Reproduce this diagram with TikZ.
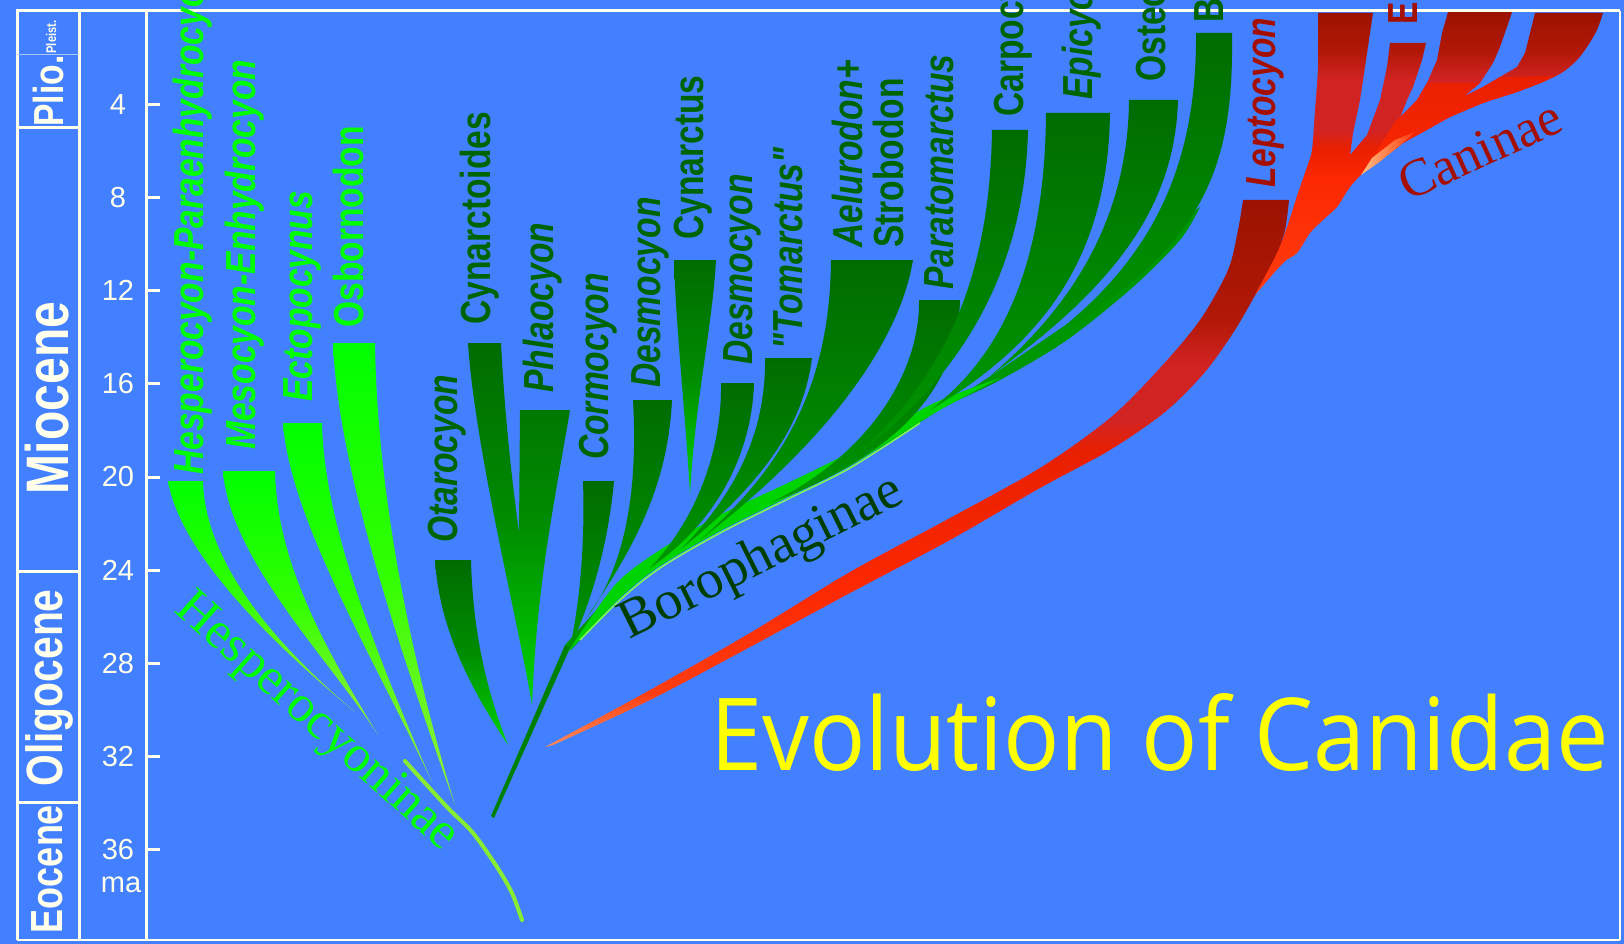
\documentclass[tikz,border=0pt]{standalone}
\usepackage{graphicx}
\usepackage{fontspec}
\setmainfont{Liberation Serif}
\newfontfamily\condsans[FakeStretch=0.8]{Liberation Sans}
\newfontfamily\plainsans{Liberation Sans}
\newfontfamily\titlefont{Open Sans}

% palette
\definecolor{bgblue}{RGB}{66,128,255}
\definecolor{framewhite}{RGB}{255,255,236}
\definecolor{hgreen}{RGB}{0,255,0}
\definecolor{hmid}{RGB}{50,255,0}
\definecolor{hyellow}{RGB}{150,238,60}
\definecolor{htrunkc}{RGB}{135,236,50}
\definecolor{bdark}{RGB}{0,108,0}
\definecolor{bmid}{RGB}{0,150,0}
\definecolor{bstem}{RGB}{0,128,0}
\definecolor{bmidtwo}{RGB}{0,140,0}
\definecolor{bbright}{RGB}{0,212,0}
\definecolor{blight}{RGB}{130,250,80}
\definecolor{blabel}{RGB}{0,100,0}
\definecolor{bfam}{RGB}{0,62,0}
\definecolor{rdark}{RGB}{155,18,0}
\definecolor{rdarktwo}{RGB}{178,24,6}
\definecolor{rcrim}{RGB}{210,35,35}
\definecolor{rred}{RGB}{232,32,0}
\definecolor{rbright}{RGB}{252,40,0}
\definecolor{rorange}{RGB}{255,60,15}
\definecolor{rtip}{RGB}{255,140,90}
\definecolor{rhigh}{RGB}{255,190,130}
\definecolor{rlabel}{RGB}{165,15,0}
\definecolor{titleyellow}{RGB}{255,255,0}

% red shadings, inner 25bp..75bp span the shape's height
\pgfdeclareverticalshading{leptoshade}{100bp}{color(0bp)=(rtip); color(25bp)=(rtip); color(30bp)=(rorange); color(40bp)=(rbright); color(52bp)=(rred); color(55bp)=(rcrim); color(60bp)=(rcrim); color(64bp)=(rdarktwo); color(75bp)=(rdark); color(100bp)=(rdark)}
\pgfdeclareverticalshading{crownshade}{100bp}{color(0bp)=(rorange); color(25bp)=(rorange); color(46bp)=(rbright); color(51bp)=(rred); color(54bp)=(rcrim); color(63bp)=(rcrim); color(68bp)=(rdarktwo); color(75bp)=(rdark); color(100bp)=(rdark)}

\tikzset{
  hwedge/.style={top color=hgreen, bottom color=hyellow, middle color=hmid},
  bwedge/.style={top color=bdark, bottom color=bmid},
  bspindle/.style={top color=bdark, bottom color=bbright, middle color=bmidtwo},
  framepen/.style={draw=framewhite, line width=3},
  genus/.style={rotate=90, anchor=base west, inner sep=0pt, font=\condsans\bfseries\fontsize{42}{42}\selectfont},
  genusit/.style={genus, font=\condsans\bfseries\itshape\fontsize{42}{42}\selectfont},
  hlab/.style={text=hgreen},
  blab/.style={text=blabel},
  rlab/.style={text=rlabel},
  epoch/.style={rotate=90, anchor=base, inner sep=0pt, text=framewhite},
  agelabel/.style={inner sep=0pt, text=framewhite, font=\plainsans\fontsize{29}{29}\selectfont},
}

\begin{document}
\begin{tikzpicture}[x=1pt,y=-1pt]
\useasboundingbox (0,0) rectangle (1624,944);
\fill[bgblue] (0,0) rectangle (1624,944);

% ---------- Hesperocyoninae ----------
\shade[hwedge] (168,481) -- (203,481) .. controls (205,560) and (270,640) .. (355,712) .. controls (262,635) and (180,550) .. (168,481) -- cycle;
\shade[hwedge] (223,471) -- (275,471) .. controls (277,560) and (320,640) .. (378,735) .. controls (330,660) and (230,560) .. (223,471) -- cycle;
\shade[hwedge] (283,423) -- (322,423) .. controls (324,520) and (370,640) .. (432,782) .. controls (375,660) and (290,520) .. (283,423) -- cycle;
\shade[hwedge] (333,343) -- (375,343) .. controls (377,480) and (405,640) .. (455,805) .. controls (400,650) and (338,470) .. (333,343) -- cycle;
\draw[line width=4, line cap=round, draw=htrunkc] plot[smooth] coordinates {(405,761) (447,807) (473,833) (497,867) (512,893) (522,920)};

% ---------- Borophaginae ----------
% common stem, kept low so the genera cover its upper side
\fill[bmid] (565,645) -- (600,606) -- (640,572) -- (700,538) -- (760,508) -- (820,480) -- (880,448) -- (950,403) -- (1010,363) -- (1070,322) -- (1130,272) -- (1175,226) -- (1200,207)
  -- plot[smooth] coordinates {(1200,207) (1180,240) (1133,287) (1067,340) (1000,380) (933,413) (850,465) (790,495) (720,530) (660,565) (620,597) (571,650)} -- cycle;
\fill[bstem] (491,816) -- (565,645) -- (570,648) -- (494,818) -- cycle;
\fill[bbright] plot[smooth] coordinates {(568,652) (620,598) (660,566) (720,531) (790,496) (850,466) (933,414) (1000,378)}
  -- plot[smooth] coordinates {(1000,378) (930,405) (850,452) (790,482) (720,515) (660,550) (615,585) (568,652)} -- cycle;
\draw[line width=1.5, draw=blight] plot[smooth] coordinates {(580,640) (620,600) (660,568) (720,533) (790,498) (850,468) (920,423)};
% genera
\shade[bspindle] (435,560) -- (471,560) .. controls (473,640) and (490,700) .. (508,745) .. controls (482,705) and (440,640) .. (435,560) -- cycle;
\shade[bspindle] (468,343) -- (501,343) .. controls (505,420) and (512,480) .. (519,533) -- (520,410) -- (570,410) .. controls (555,500) and (537,580) .. (532,705) .. controls (520,630) and (475,450) .. (468,343) -- cycle;
\shade[bwedge] (583,481) -- (614,481) .. controls (608,545) and (592,600) .. (570,648) .. controls (580,600) and (585,545) .. (583,481) -- cycle;
\shade[bwedge] (633,400) -- (672,400) .. controls (668,480) and (640,540) .. (585,620) .. controls (632,560) and (637,470) .. (633,400) -- cycle;
\shade[bspindle] (674,260) -- (716,260) .. controls (712,330) and (695,400) .. (690,495) .. controls (686,420) and (676,330) .. (674,260) -- cycle;
\shade[bwedge] (721,383) -- (754,383) .. controls (752,450) and (720,520) .. (650,568) .. controls (700,515) and (722,445) .. (721,383) -- cycle;
\shade[bwedge] (765,358) -- (812,358) .. controls (805,410) and (780,470) .. (680,550) .. controls (745,485) and (766,420) .. (765,358) -- cycle;
\shade[bwedge] (831,260) -- (913,260) .. controls (900,340) and (830,440) .. (700,540) .. controls (780,470) and (830,390) .. (831,260) -- cycle;
\shade[bwedge] (919,300) -- (960,300) .. controls (958,380) and (910,450) .. (770,503) .. controls (860,460) and (920,380) .. (919,300) -- cycle;
\shade[bwedge] (992,130) -- (1028,130) .. controls (1025,260) and (970,370) .. (860,452) .. controls (950,370) and (990,270) .. (992,130) -- cycle;
\shade[bwedge] (1046,113) -- (1110,113) .. controls (1108,250) and (1050,340) .. (930,410) .. controls (1010,350) and (1045,250) .. (1046,113) -- cycle;
\shade[bwedge] (1129,100) -- (1178,100) .. controls (1175,210) and (1110,290) .. (990,376) .. controls (1080,300) and (1128,210) .. (1129,100) -- cycle;
\shade[bwedge] (1196,33) -- (1232,33) .. controls (1234,170) and (1205,250) .. (1040,345) .. controls (1150,265) and (1197,170) .. (1196,33) -- cycle;

% ---------- Caninae ----------
\shade[shading=leptoshade] plot[smooth] coordinates {(545,747) (650,690) (750,633) (850,572) (950,518) (1040,468) (1110,418) (1160,368) (1200,320) (1228,270) (1238,230) (1243,200)}
  -- plot[smooth] coordinates {(1289,200) (1285,230) (1275,260) (1258,290) (1235,330) (1205,372) (1165,412) (1110,450) (1040,488) (950,540) (850,593) (750,647) (650,700) (553,745)} -- cycle;
\shade[shading=crownshade] (1318,13) -- (1373,13) -- (1370,33) -- (1365,67) -- (1360,100) -- (1353,133) -- (1350,155)
  -- (1367,135) -- (1380,100) -- (1387,67) -- (1390,43) -- (1426,43) -- (1422,60) -- (1413,87) -- (1407,100) -- (1400,118)
  -- (1417,100) -- (1427,83) -- (1437,60) -- (1442,33) -- (1448,12) -- (1512,12) -- (1507,27) -- (1500,47) -- (1493,63) -- (1480,83) -- (1463,97) -- (1442,107)
  -- (1467,95) -- (1483,87) -- (1500,77) -- (1517,67) -- (1525,53) -- (1530,33) -- (1535,13) -- (1603,13)
  -- plot[smooth] coordinates {(1603,13) (1597,30) (1587,47) (1577,60) (1563,72) (1543,82) (1517,92) (1483,103) (1450,117) (1423,132) (1403,143) (1390,153) (1377,163) (1363,173) (1350,187) (1337,207) (1323,220) (1310,233) (1297,253) (1283,263) (1255,295)}
  -- plot[smooth] coordinates {(1255,295) (1277,253) (1287,227) (1298,193) (1307,167) (1312,150) (1315,110) (1318,67) (1318,13)} -- cycle;
\shade[top color=rred, bottom color=rbright] (1395,122) -- (1417,100) -- (1427,83) -- (1480,83) -- (1463,97) -- (1442,107) -- (1483,87) -- (1500,77) -- (1555,76)
  -- (1543,82) -- (1517,92) -- (1483,103) -- (1450,117) -- (1423,132) -- (1403,143) -- (1390,153) -- (1377,163) -- (1363,173) -- cycle;
\shade[left color=rhigh, right color=rorange] (1361,175) -- (1372,158) -- (1395,140) -- (1415,132) -- (1398,147) -- (1378,163) -- cycle;

% ---------- time scale frame ----------
\draw[framepen] (17,940) -- (17,11) -- (1620,11);
\draw[framepen] (79,11) -- (79,940);
\draw[framepen] (146,11) -- (146,940);
\draw[framepen, line width=1.5] (17,940) -- (1620,940);
\draw[framepen, line width=1.5] (1620,11) -- (1620,940);
\draw[draw=framewhite!55!bgblue, line width=1] (17,55) -- (79,55);
\draw[framepen] (17,128) -- (79,128);
\draw[framepen] (17,571) -- (79,571);
\draw[framepen] (17,802) -- (79,802);
\foreach \t in {4,8,...,36} {
  \draw[framepen] (146,{11+23.3*\t}) -- (160,{11+23.3*\t});
  \node[agelabel] (age\t) at (118,{11+23.3*\t}) {\t};
}
\node[agelabel, anchor=base] (ma) at (121,892) {ma};

\node[epoch, font=\condsans\bfseries\fontsize{14}{14}\selectfont] (pleist) at (56,37) {Pleist.};
\node[epoch, font=\condsans\bfseries\fontsize{42}{42}\selectfont] (plio) at (63,91) {Plio.};
\node[epoch, font=\condsans\bfseries\fontsize{60}{60}\selectfont] (miocene) at (68,398) {Miocene};
\node[epoch, font=\condsans\bfseries\fontsize{51}{51}\selectfont] (oligocene) at (62,688) {Oligocene};
\node[epoch, font=\condsans\bfseries\fontsize{45}{45}\selectfont] (eocene) at (62,869) {Eocene};

% ---------- genus labels ----------
\node[genusit, hlab] (hesperocyon) at (203,475) {Hesperocyon-Paraenhydrocyon};
\node[genusit, hlab] (mesocyon) at (255,450) {Mesocyon-Enhydrocyon};
\node[genusit, hlab] (ectopocynus) at (312,402) {Ectopocynus};
\node[genus, hlab] (osbornodon) at (363,328) {Osbornodon};
\node[genusit, blab] (otarocyon) at (457,543) {Otarocyon};
\node[genus, blab] (cynarctoides) at (490,325) {Cynarctoides};
\node[genusit, blab] (phlaocyon) at (553,393) {Phlaocyon};
\node[genusit, blab] (cormocyon) at (608,460) {Cormocyon};
\node[genusit, blab] (desmocyona) at (660,388) {Desmocyon};
\node[genus, blab] (cynarctus) at (703,240) {Cynarctus};
\node[genusit, blab] (desmocyonb) at (752,365) {Desmocyon};
\node[genusit, blab] (tomarctus) at (802,350) {"Tomarctus"};
\node[genusit, blab] (aelurodon) at (862,248) {Aelurodon+};
\node[genus, blab] (strobodon) at (903,248) {Strobodon};
\node[genusit, blab] (paratomarctus) at (953,290) {Paratomarctus};
\node[genus, blab] (carpocyon) at (1023,117) {Carpocyon};
\node[genusit, blab] (epicyon) at (1092,100) {Epicyon};
\node[genus, blab] (osteoborus) at (1165,82) {Osteoborus};
\node[genus, blab] (borophagus) at (1223,23) {Borophagus};
\node[genusit, rlab] (leptocyon) at (1275,188) {Leptocyon};
\node[genus, rlab] (eucyon) at (1417,25) {Eucyon};

% ---------- subfamily labels ----------
\node[rotate=-41.8, inner sep=0pt, text=hgreen, font=\fontsize{52}{52}\selectfont] (hespfam) at (316,723) {Hesperocyoninae};
\node[rotate=26.6, inner sep=0pt, text=bfam, font=\fontsize{55}{55}\selectfont] (borofam) at (762,559) {Borophaginae};
\node[rotate=24.5, inner sep=0pt, text=rlabel, font=\fontsize{53}{53}\selectfont] (canfam) at (1480,150) {Caninae};

% ---------- title ----------
\node[anchor=base west, inner sep=0pt, text=titleyellow] (title) at (710,770) {\resizebox{898pt}{77pt}{\titlefont Evolution of Canidae}};
\end{tikzpicture}
\end{document}
